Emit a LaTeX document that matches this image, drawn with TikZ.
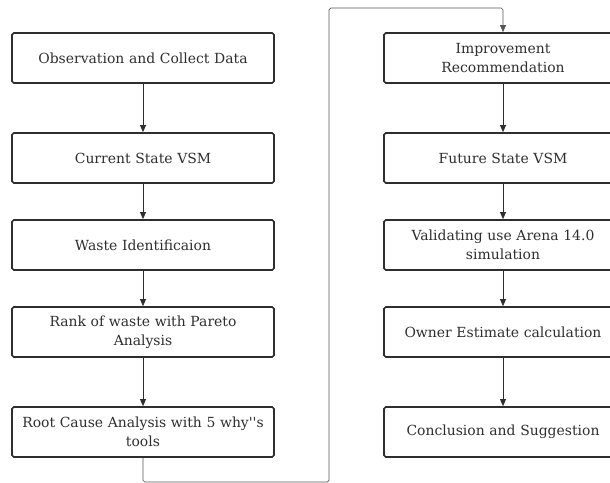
\documentclass[tikz,border=0pt]{standalone}
\usepackage{fontspec}
\setmainfont{DejaVu Serif}
\usepackage{tikz}
\usetikzlibrary{arrows.meta, positioning}

\definecolor{ink}{HTML}{2E2E2E}
\definecolor{wire}{HTML}{555555}

\begin{document}
\begin{tikzpicture}[
  box/.style={draw=ink, line width=1.4pt, rounded corners=1.5pt, minimum height=1.5cm, align=center, text=ink, font=\fontsize{11.9}{16}\selectfont},
  lbox/.style={box, minimum width=7.86cm, text width=7.5cm},
  rbox/.style={box, minimum width=7.14cm, text width=6.8cm},
  arr/.style={-{Triangle[length=6pt, width=5pt]}, draw=ink, line width=0.7pt},
  wrap/.style={-{Triangle[length=6pt, width=5pt]}, draw=wire, line width=0.6pt, rounded corners=1.5pt},
]
\useasboundingbox (0,0) rectangle (18.3,-14.49);
\clip (0,0) rectangle (18.3,-14.49);

% left column
\node[lbox] (obs) at (4.29, -1.74) {Observation and Collect Data};
\node[lbox] (cvsm) at (4.29, -4.74) {Current State VSM};
\node[lbox] (waste) at (4.29, -7.35) {Waste Identificaion};
\node[lbox] (rank) at (4.29, -9.96) {Rank of waste with Pareto\\Analysis};
\node[lbox] (rca) at (4.29, -12.96) {Root Cause Analysis with 5 why\textquotesingle\textquotesingle s\\tools};

% right column
\node[rbox] (impr) at (15.09, -1.74) {Improvement\\Recommendation};
\node[rbox] (fvsm) at (15.09, -4.74) {Future State VSM};
\node[rbox] (valid) at (15.09, -7.35) {Validating use Arena 14.0\\simulation};
\node[rbox] (oe) at (15.09, -9.96) {Owner Estimate calculation};
\node[rbox] (concl) at (15.09, -12.96) {Conclusion and Suggestion};

\coordinate (bot) at (9.87, -14.46);
\coordinate (top) at (9.87, -0.24);

\draw[arr] (obs) -- (cvsm);
\draw[arr] (cvsm) -- (waste);
\draw[arr] (waste) -- (rank);
\draw[arr] (rank) -- (rca);
\draw[wrap] (rca.south) |- (bot) -- (top) -| (impr.north);
\draw[arr] (impr) -- (fvsm);
\draw[arr] (fvsm) -- (valid);
\draw[arr] (valid) -- (oe);
\draw[arr] (oe) -- (concl);

\end{tikzpicture}
\end{document}
